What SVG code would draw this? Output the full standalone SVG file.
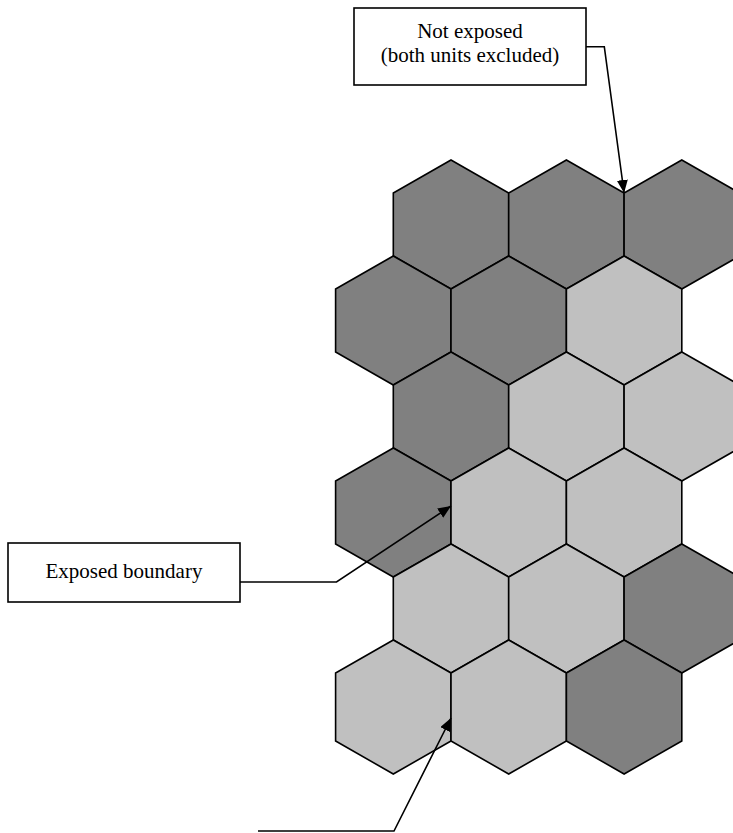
<svg xmlns="http://www.w3.org/2000/svg" width="733" height="833" viewBox="0 0 733 833">
<style>
.dark{fill:#808080;stroke:#000;stroke-width:1.6;stroke-linejoin:miter}
.light{fill:#c0c0c0;stroke:#000;stroke-width:1.6;stroke-linejoin:miter}
.box{fill:#fff;stroke:#000;stroke-width:1.6}
.lbl{font-family:"Liberation Serif","Times New Roman",serif;font-size:21px;fill:#000;text-anchor:middle}
.conn{fill:none;stroke:#000;stroke-width:1.6}
</style>
<defs>
<marker id="arr" markerUnits="userSpaceOnUse" markerWidth="14" markerHeight="12" refX="13" refY="5.5" orient="auto">
<path d="M0,0 L13,5.5 L0,11 Z" fill="#000"/>
</marker>
</defs>
<g id="hexes">
<g id="h0a"><polygon class="dark" points="451,160 508.7,193 508.7,256 451,289 393.3,256 393.3,193"/></g>
<g id="h0b"><polygon class="dark" points="566.4,160 624.1,193 624.1,256 566.4,289 508.7,256 508.7,193"/></g>
<g id="h0c"><polygon class="dark" points="681.8,160 739.5,193 739.5,256 681.8,289 624.1,256 624.1,193"/></g>
<g id="h1a"><polygon class="dark" points="393.3,256 451,289 451,352 393.3,385 335.6,352 335.6,289"/></g>
<g id="h1b"><polygon class="dark" points="508.7,256 566.4,289 566.4,352 508.7,385 451,352 451,289"/></g>
<g id="h1c"><polygon class="light" points="624.1,256 681.8,289 681.8,352 624.1,385 566.4,352 566.4,289"/></g>
<g id="h2a"><polygon class="dark" points="451,352 508.7,385 508.7,448 451,481 393.3,448 393.3,385"/></g>
<g id="h2b"><polygon class="light" points="566.4,352 624.1,385 624.1,448 566.4,481 508.7,448 508.7,385"/></g>
<g id="h2c"><polygon class="light" points="681.8,352 739.5,385 739.5,448 681.8,481 624.1,448 624.1,385"/></g>
<g id="h3a"><polygon class="dark" points="393.3,448 451,481 451,544 393.3,577 335.6,544 335.6,481"/></g>
<g id="h3b"><polygon class="light" points="508.7,448 566.4,481 566.4,544 508.7,577 451,544 451,481"/></g>
<g id="h3c"><polygon class="light" points="624.1,448 681.8,481 681.8,544 624.1,577 566.4,544 566.4,481"/></g>
<g id="h4a"><polygon class="light" points="451,544 508.7,577 508.7,640 451,673 393.3,640 393.3,577"/></g>
<g id="h4b"><polygon class="light" points="566.4,544 624.1,577 624.1,640 566.4,673 508.7,640 508.7,577"/></g>
<g id="h4c"><polygon class="dark" points="681.8,544 739.5,577 739.5,640 681.8,673 624.1,640 624.1,577"/></g>
<g id="h5a"><polygon class="light" points="393.3,640 451,673 451,741 393.3,774 335.6,741 335.6,673"/></g>
<g id="h5b"><polygon class="light" points="508.7,640 566.4,673 566.4,741 508.7,774 451,741 451,673"/></g>
<g id="h5c"><polygon class="dark" points="624.1,640 681.8,673 681.8,741 624.1,774 566.4,741 566.4,673"/></g>
</g>
<g id="label-not-exposed">
<rect class="box" x="354" y="8" width="232" height="77"/>
<text class="lbl" x="470" y="38">Not exposed</text>
<text class="lbl" x="470" y="62">(both units excluded)</text>
</g>
<g id="label-exposed-boundary">
<rect class="box" x="8" y="543" width="232" height="59"/>
<text class="lbl" x="124" y="578">Exposed boundary</text>
</g>
<g id="connectors">
<polyline class="conn" points="586,46.7 604.3,46.7 624.1,193" marker-end="url(#arr)"/>
<polyline class="conn" points="240,582 336.5,582 451,506" marker-end="url(#arr)"/>
<polyline class="conn" points="258,831 394,831 451,718" marker-end="url(#arr)"/>
</g>
</svg>
